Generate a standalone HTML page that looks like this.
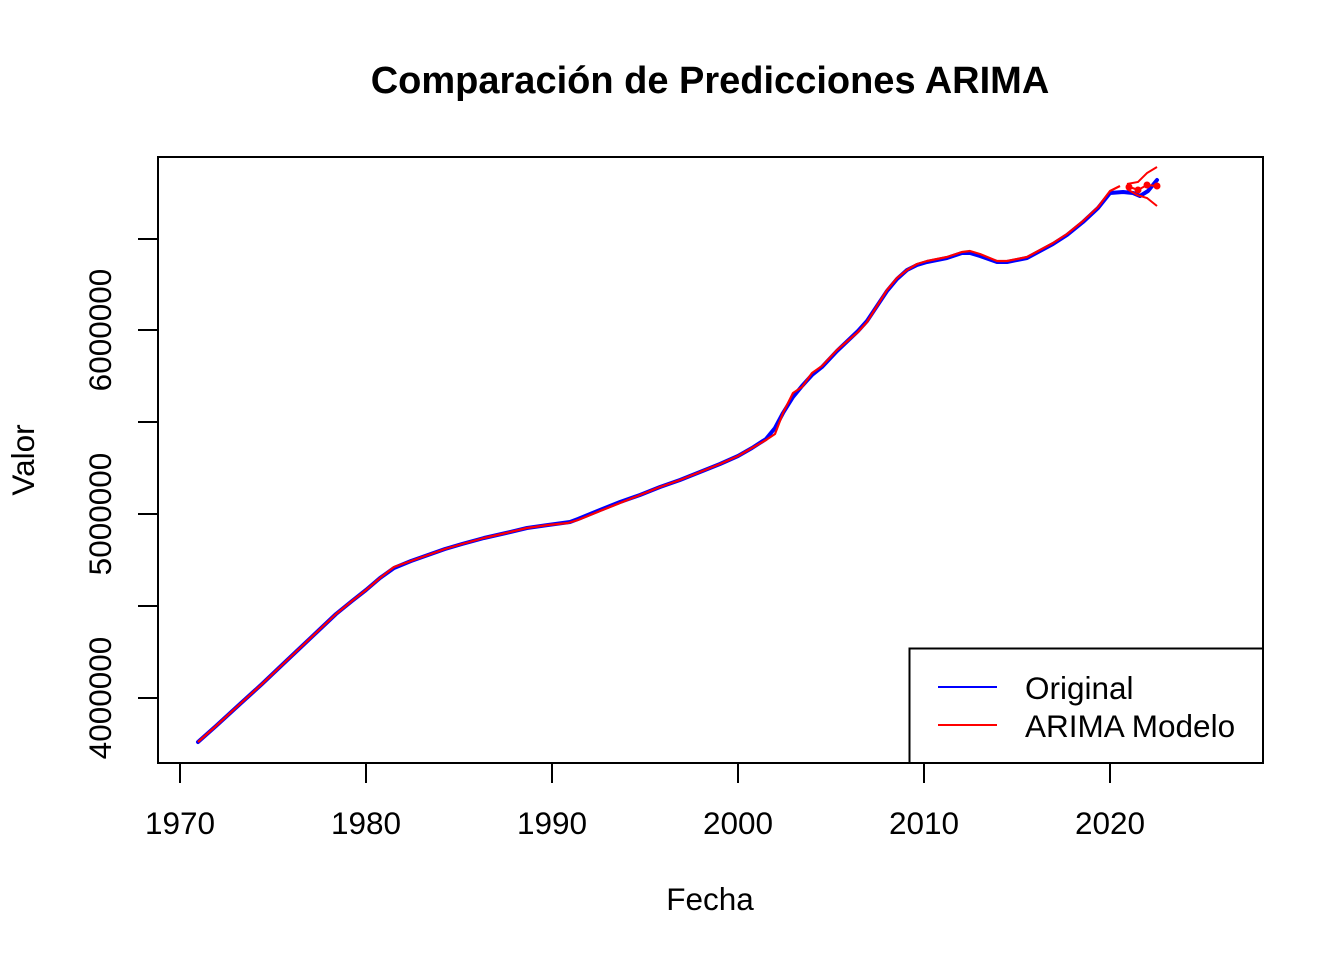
<!DOCTYPE html>
<html><head><meta charset="utf-8"><style>
html,body{margin:0;padding:0;background:#fff;}
svg{display:block;}
text{font-family:"Liberation Sans",Arial,sans-serif;fill:#000;}
</style></head><body>
<svg width="1344" height="960" viewBox="0 0 1344 960" xmlns="http://www.w3.org/2000/svg">
<rect width="1344" height="960" fill="#fff"/>
<text x="710" y="93" font-size="38" font-weight="bold" text-anchor="middle">Comparación de Predicciones ARIMA</text>
<!-- plot frame -->
<rect x="158" y="157" width="1105" height="606" fill="none" stroke="#000" stroke-width="2"/>
<!-- x axis -->
<g stroke="#000" stroke-width="2">
<line x1="180" y1="763" x2="1110" y2="763"/>
<line x1="180" y1="763" x2="180" y2="783"/>
<line x1="366" y1="763" x2="366" y2="783"/>
<line x1="552" y1="763" x2="552" y2="783"/>
<line x1="738" y1="763" x2="738" y2="783"/>
<line x1="924" y1="763" x2="924" y2="783"/>
<line x1="1110" y1="763" x2="1110" y2="783"/>
</g>
<g font-size="31.5" text-anchor="middle">
<text x="180" y="834">1970</text>
<text x="366" y="834">1980</text>
<text x="552" y="834">1990</text>
<text x="738" y="834">2000</text>
<text x="924" y="834">2010</text>
<text x="1110" y="834">2020</text>
</g>
<!-- y axis -->
<g stroke="#000" stroke-width="2">
<line x1="158" y1="239" x2="158" y2="698"/>
<line x1="138" y1="698" x2="158" y2="698"/>
<line x1="138" y1="606" x2="158" y2="606"/>
<line x1="138" y1="514" x2="158" y2="514"/>
<line x1="138" y1="422" x2="158" y2="422"/>
<line x1="138" y1="330" x2="158" y2="330"/>
<line x1="138" y1="239" x2="158" y2="239"/>
</g>
<g font-size="31.5" text-anchor="middle">
<text transform="translate(111,698) rotate(-90)">4000000</text>
<text transform="translate(111,514) rotate(-90)">5000000</text>
<text transform="translate(111,330) rotate(-90)">6000000</text>
</g>
<text x="710" y="910" font-size="31.5" text-anchor="middle">Fecha</text>
<text transform="translate(34,460) rotate(-90)" font-size="31.5" text-anchor="middle">Valor</text>
<!-- original series -->
<polyline fill="none" stroke="#0000ff" stroke-width="4" stroke-linejoin="round" stroke-linecap="round" points="198,742 216,726 240,704 262,684 282,665 300,648 318,631 336,614 352,601 366,590 380,578 394,568 411,561 428,555 445,549 462,544 484,538 506,533 527,528 548,525 570,522 578,519 600,510 620,502 640,495 660,487 680,480 700,472 720,464 738,456 752,448 766,439 775,428 783,413 793,397 802,386 812,375 822,367 837,351 858,331 867,321 877,306 887,291 897,279 907,270 917,265 927,262 947,258 962,253 970,253 980,256 997,262 1007,262 1027,258 1040,251 1053,244 1067,235 1083,222 1098,208 1110,193 1123,192 1133,193 1140,196 1148,191 1157,180"/>
<!-- ARIMA fitted -->
<polyline fill="none" stroke="#ff0000" stroke-width="2.2" stroke-linejoin="round" points="198,742 216,726 240,704 262,684 282,665 300,648 318,631 336,614 352,601 366,590 380,578 394,567 411,561 428,555 445,549 462,544 484,538 506,533 527,528 548,525 568,523 578,520 600,511 620,503 640,495 660,487 680,480 700,472 720,464 738,456 752,448 766,440 775,434 783,413 793,393 802,387 812,373 822,366 837,350 858,332 867,322 877,306 887,290 897,278 907,270 917,264 927,261 947,257 962,252 970,251 980,254 997,261 1007,261 1027,257 1040,250 1053,243 1067,234 1083,221 1098,207 1110,191 1120,186"/>
<!-- forecast -->
<polyline fill="none" stroke="#ff0000" stroke-width="2" points="1127,186 1138,190 1147,185 1157,186"/>
<polyline fill="none" stroke="#ff0000" stroke-width="2" points="1127,184 1138,182 1147,173 1157,167"/>
<polyline fill="none" stroke="#ff0000" stroke-width="2" points="1127,189 1137,195 1147,198 1157,206"/>
<g fill="#ff0000">
<circle cx="1129" cy="187" r="3.5"/>
<circle cx="1138" cy="190" r="3.5"/>
<circle cx="1147" cy="185" r="3.5"/>
<circle cx="1157" cy="186" r="3.5"/>
</g>
<!-- legend -->
<rect x="909.5" y="648.5" width="353.5" height="114.5" fill="#fff" stroke="#000" stroke-width="2"/>
<line x1="938" y1="687" x2="997" y2="687" stroke="#0000ff" stroke-width="2"/>
<line x1="938" y1="725" x2="997" y2="725" stroke="#ff0000" stroke-width="2"/>
<text x="1025" y="699" font-size="31.5">Original</text>
<text x="1025" y="737" font-size="31.5">ARIMA Modelo</text>
</svg>
</body></html>
